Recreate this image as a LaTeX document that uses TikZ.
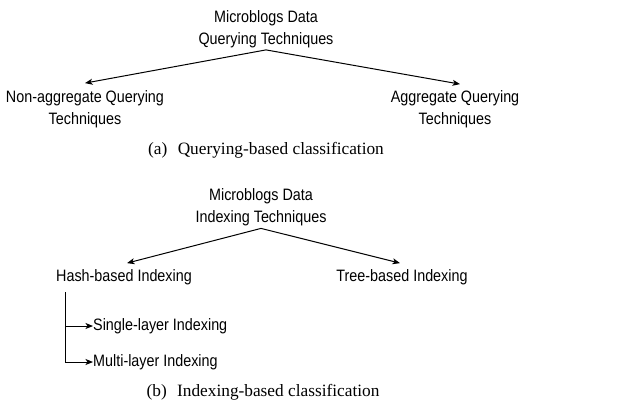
\documentclass[tikz,border=0pt]{standalone}
\usepackage{fontspec}
\setmainfont{Liberation Serif}
\newfontfamily\labelfont[FakeStretch=0.87]{Liberation Sans}
\usetikzlibrary{arrows.meta}
\begin{document}
\begin{tikzpicture}[x=1pt,y=-1pt,
  lbl/.style={font=\labelfont\fontsize{16.5}{22}\selectfont, align=center, inner sep=0pt},
  captext/.style={font=\rmfamily\fontsize{17.3}{20}\selectfont, inner sep=0pt},
  arr/.style={-{Stealth[length=7.5pt,width=6pt,inset=2pt]}, line width=1pt},
  trunkline/.style={line width=1pt}]
\useasboundingbox (0,0) rectangle (642,405);

% (a) querying-based tree
\node[lbl] (qroot) at (266,29) {Microblogs Data\\Querying Techniques};
\node[lbl] (nonagg) at (85,109) {Non-aggregate Querying\\Techniques};
\node[lbl] (agg) at (455,109) {Aggregate Querying\\Techniques};
\draw[arr] ([yshift=-2pt]qroot.south) -- ([yshift=7pt]nonagg.north);
\draw[arr] ([yshift=-2pt]qroot.south) -- ([xshift=5pt,yshift=6pt]agg.north);
\node[captext] (capa) at (266,150) {(a)\hskip0.6em Querying-based classification};

% (b) indexing-based tree
\node[lbl] (iroot) at (261,207.5) {Microblogs Data\\Indexing Techniques};
\node[lbl] (hash) at (124,277) {Hash-based Indexing};
\node[lbl] (tree) at (402,277) {Tree-based Indexing};
\draw[arr] ([yshift=-2pt]iroot.south) -- ([xshift=3pt,yshift=6pt]hash.north);
\draw[arr] ([yshift=-2pt]iroot.south) -- ([xshift=-2pt,yshift=6pt]tree.north);

\node[lbl, anchor=west] (single) at (93,326) {Single-layer Indexing};
\node[lbl, anchor=west] (multi) at (93,362) {Multi-layer Indexing};
\coordinate (trunk) at (65,292);
\draw[trunkline] (trunk) -- (trunk |- multi.west);
\draw[arr] (trunk |- single.west) -- (single.west);
\draw[arr] (trunk |- multi.west) -- (multi.west);

\node[captext] (capb) at (263,392) {(b)\hskip0.6em Indexing-based classification};
\end{tikzpicture}
\end{document}
